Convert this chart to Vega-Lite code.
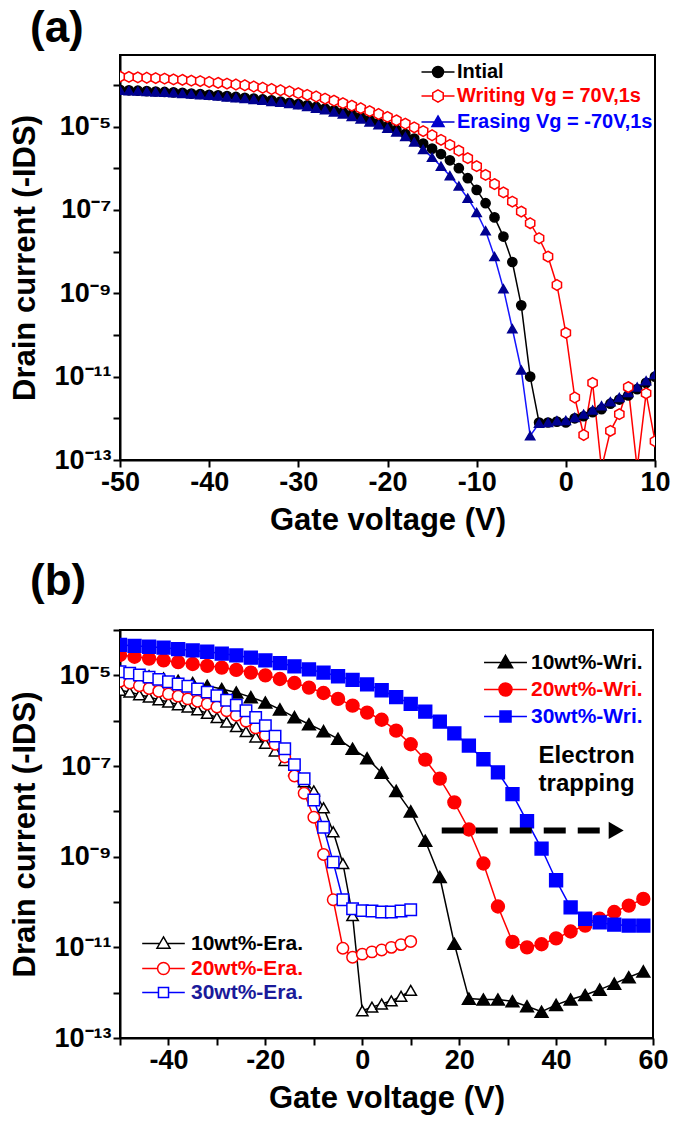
{
"$schema": "https://vega.github.io/schema/vega-lite/v6.json",
"background": "white",
"padding": {"left": 8, "top": 6, "right": 5, "bottom": 5},
"spacing": 23,
"config": {
  "font": "Liberation Sans",
  "view": {"stroke": "black", "strokeWidth": 2},
  "axis": {"labelFont": "Liberation Sans", "labelFontWeight": "bold", "labelFontSize": 27, "labelColor": "black",
           "titleFont": "Liberation Sans", "titleFontWeight": "bold", "titleFontSize": 31, "titleColor": "black",
           "domainColor": "black", "domainWidth": 2, "tickColor": "black", "tickWidth": 2, "tickSize": 7,
           "labelPadding": 2, "grid": false, "labelFlush": false, "labelOverlap": false},
  "legend": {"labelFont": "Liberation Sans", "labelFontWeight": "bold", "padding": 0, "labelLimit": 400}
},
"resolve": {"scale": {"x": "independent", "y": "independent", "color": "independent", "stroke": "independent", "fill": "independent", "shape": "independent"}},
"vconcat": [
{
  "width": 535, "height": 405,
  "title": {"text": "(a)", "anchor": "start", "fontSize": 44, "fontWeight": "bold", "font": "Liberation Sans", "dx": 20, "offset": 4, "color": "black"},
  "data": {"values": [
{"V":-50,"I":7.59e-5,"s":"Intial"},{"V":-49,"I":7.41e-5,"s":"Intial"},{"V":-48,"I":7.24e-5,"s":"Intial"},{"V":-47,"I":7.08e-5,"s":"Intial"},{"V":-46,"I":6.92e-5,"s":"Intial"},{"V":-45,"I":6.76e-5,"s":"Intial"},{"V":-44,"I":6.61e-5,"s":"Intial"},{"V":-43,"I":6.46e-5,"s":"Intial"},{"V":-42,"I":6.17e-5,"s":"Intial"},{"V":-41,"I":6.03e-5,"s":"Intial"},
{"V":-40,"I":5.75e-5,"s":"Intial"},{"V":-39,"I":5.62e-5,"s":"Intial"},{"V":-38,"I":5.37e-5,"s":"Intial"},{"V":-37,"I":5.13e-5,"s":"Intial"},{"V":-36,"I":4.90e-5,"s":"Intial"},{"V":-35,"I":4.68e-5,"s":"Intial"},{"V":-34,"I":4.47e-5,"s":"Intial"},{"V":-33,"I":4.27e-5,"s":"Intial"},{"V":-32,"I":3.98e-5,"s":"Intial"},{"V":-31,"I":3.72e-5,"s":"Intial"},
{"V":-30,"I":3.47e-5,"s":"Intial"},{"V":-29,"I":3.24e-5,"s":"Intial"},{"V":-28,"I":2.95e-5,"s":"Intial"},{"V":-27,"I":2.69e-5,"s":"Intial"},{"V":-26,"I":2.45e-5,"s":"Intial"},{"V":-25,"I":2.19e-5,"s":"Intial"},{"V":-24,"I":1.95e-5,"s":"Intial"},{"V":-23,"I":1.70e-5,"s":"Intial"},{"V":-22,"I":1.45e-5,"s":"Intial"},{"V":-21,"I":1.23e-5,"s":"Intial"},
{"V":-20,"I":1.02e-5,"s":"Intial"},{"V":-19,"I":8.32e-6,"s":"Intial"},{"V":-18,"I":6.61e-6,"s":"Intial"},{"V":-17,"I":5.13e-6,"s":"Intial"},{"V":-16,"I":3.89e-6,"s":"Intial"},{"V":-15,"I":2.95e-6,"s":"Intial"},{"V":-14,"I":2.19e-6,"s":"Intial"},{"V":-13,"I":1.55e-6,"s":"Intial"},{"V":-12,"I":1.0e-6,"s":"Intial"},{"V":-11,"I":5.75e-7,"s":"Intial"},
{"V":-10,"I":3.02e-7,"s":"Intial"},{"V":-9,"I":1.45e-7,"s":"Intial"},{"V":-8,"I":6.61e-8,"s":"Intial"},{"V":-7,"I":2.29e-8,"s":"Intial"},{"V":-6,"I":5.62e-9,"s":"Intial"},{"V":-5,"I":5.13e-10,"s":"Intial"},{"V":-4,"I":1.0e-11,"s":"Intial"},{"V":-3,"I":7.94e-13,"s":"Intial"},{"V":-2,"I":7.94e-13,"s":"Intial"},{"V":-1,"I":8.32e-13,"s":"Intial"},
{"V":0,"I":7.94e-13,"s":"Intial"},{"V":1,"I":1.0e-12,"s":"Intial"},{"V":2,"I":1.12e-12,"s":"Intial"},{"V":3,"I":1.41e-12,"s":"Intial"},{"V":4,"I":1.66e-12,"s":"Intial"},{"V":5,"I":2.24e-12,"s":"Intial"},{"V":6,"I":2.82e-12,"s":"Intial"},{"V":7,"I":3.55e-12,"s":"Intial"},{"V":8,"I":5.01e-12,"s":"Intial"},{"V":9,"I":7.08e-12,"s":"Intial"},{"V":10,"I":1.0e-11,"s":"Intial"},

{"V":-50,"I":1.58e-4,"s":"Writing Vg = 70V,1s"},{"V":-49,"I":1.55e-4,"s":"Writing Vg = 70V,1s"},{"V":-48,"I":1.51e-4,"s":"Writing Vg = 70V,1s"},{"V":-47,"I":1.48e-4,"s":"Writing Vg = 70V,1s"},{"V":-46,"I":1.45e-4,"s":"Writing Vg = 70V,1s"},{"V":-45,"I":1.41e-4,"s":"Writing Vg = 70V,1s"},{"V":-44,"I":1.35e-4,"s":"Writing Vg = 70V,1s"},{"V":-43,"I":1.32e-4,"s":"Writing Vg = 70V,1s"},{"V":-42,"I":1.26e-4,"s":"Writing Vg = 70V,1s"},{"V":-41,"I":1.23e-4,"s":"Writing Vg = 70V,1s"},
{"V":-40,"I":1.17e-4,"s":"Writing Vg = 70V,1s"},{"V":-39,"I":1.12e-4,"s":"Writing Vg = 70V,1s"},{"V":-38,"I":1.07e-4,"s":"Writing Vg = 70V,1s"},{"V":-37,"I":1.02e-4,"s":"Writing Vg = 70V,1s"},{"V":-36,"I":9.77e-5,"s":"Writing Vg = 70V,1s"},{"V":-35,"I":9.12e-5,"s":"Writing Vg = 70V,1s"},{"V":-34,"I":8.51e-5,"s":"Writing Vg = 70V,1s"},{"V":-33,"I":7.94e-5,"s":"Writing Vg = 70V,1s"},{"V":-32,"I":7.41e-5,"s":"Writing Vg = 70V,1s"},{"V":-31,"I":6.92e-5,"s":"Writing Vg = 70V,1s"},
{"V":-30,"I":6.31e-5,"s":"Writing Vg = 70V,1s"},{"V":-29,"I":5.75e-5,"s":"Writing Vg = 70V,1s"},{"V":-28,"I":5.25e-5,"s":"Writing Vg = 70V,1s"},{"V":-27,"I":4.68e-5,"s":"Writing Vg = 70V,1s"},{"V":-26,"I":4.17e-5,"s":"Writing Vg = 70V,1s"},{"V":-25,"I":3.63e-5,"s":"Writing Vg = 70V,1s"},{"V":-24,"I":3.16e-5,"s":"Writing Vg = 70V,1s"},{"V":-23,"I":2.75e-5,"s":"Writing Vg = 70V,1s"},{"V":-22,"I":2.34e-5,"s":"Writing Vg = 70V,1s"},{"V":-21,"I":2.0e-5,"s":"Writing Vg = 70V,1s"},
{"V":-20,"I":1.70e-5,"s":"Writing Vg = 70V,1s"},{"V":-19,"I":1.41e-5,"s":"Writing Vg = 70V,1s"},{"V":-18,"I":1.17e-5,"s":"Writing Vg = 70V,1s"},{"V":-17,"I":9.55e-6,"s":"Writing Vg = 70V,1s"},{"V":-16,"I":7.76e-6,"s":"Writing Vg = 70V,1s"},{"V":-15,"I":6.17e-6,"s":"Writing Vg = 70V,1s"},{"V":-14,"I":4.79e-6,"s":"Writing Vg = 70V,1s"},{"V":-13,"I":3.63e-6,"s":"Writing Vg = 70V,1s"},{"V":-12,"I":2.63e-6,"s":"Writing Vg = 70V,1s"},{"V":-11,"I":1.74e-6,"s":"Writing Vg = 70V,1s"},
{"V":-10,"I":1.12e-6,"s":"Writing Vg = 70V,1s"},{"V":-9,"I":6.92e-7,"s":"Writing Vg = 70V,1s"},{"V":-8,"I":4.17e-7,"s":"Writing Vg = 70V,1s"},{"V":-7,"I":2.63e-7,"s":"Writing Vg = 70V,1s"},{"V":-6,"I":1.58e-7,"s":"Writing Vg = 70V,1s"},{"V":-5,"I":9.12e-8,"s":"Writing Vg = 70V,1s"},{"V":-4,"I":4.79e-8,"s":"Writing Vg = 70V,1s"},{"V":-3,"I":2.09e-8,"s":"Writing Vg = 70V,1s"},{"V":-2,"I":7.59e-9,"s":"Writing Vg = 70V,1s"},{"V":-1,"I":1.58e-9,"s":"Writing Vg = 70V,1s"},
{"V":0,"I":1.12e-10,"s":"Writing Vg = 70V,1s"},{"V":1,"I":3.16e-12,"s":"Writing Vg = 70V,1s"},{"V":2,"I":3.98e-13,"s":"Writing Vg = 70V,1s"},{"V":3,"I":7.08e-12,"s":"Writing Vg = 70V,1s"},{"V":4,"I":6.31e-14,"s":"Writing Vg = 70V,1s"},{"V":5,"I":5.01e-13,"s":"Writing Vg = 70V,1s"},{"V":6,"I":1.26e-12,"s":"Writing Vg = 70V,1s"},{"V":7,"I":5.62e-12,"s":"Writing Vg = 70V,1s"},{"V":8,"I":6.31e-14,"s":"Writing Vg = 70V,1s"},{"V":9,"I":3.98e-12,"s":"Writing Vg = 70V,1s"},{"V":10,"I":2.82e-13,"s":"Writing Vg = 70V,1s"},

{"V":-50,"I":7.41e-5,"s":"Erasing Vg = -70V,1s"},{"V":-49,"I":7.24e-5,"s":"Erasing Vg = -70V,1s"},{"V":-48,"I":7.08e-5,"s":"Erasing Vg = -70V,1s"},{"V":-47,"I":6.92e-5,"s":"Erasing Vg = -70V,1s"},{"V":-46,"I":6.76e-5,"s":"Erasing Vg = -70V,1s"},{"V":-45,"I":6.61e-5,"s":"Erasing Vg = -70V,1s"},{"V":-44,"I":6.46e-5,"s":"Erasing Vg = -70V,1s"},{"V":-43,"I":6.17e-5,"s":"Erasing Vg = -70V,1s"},{"V":-42,"I":6.03e-5,"s":"Erasing Vg = -70V,1s"},{"V":-41,"I":5.75e-5,"s":"Erasing Vg = -70V,1s"},
{"V":-40,"I":5.62e-5,"s":"Erasing Vg = -70V,1s"},{"V":-39,"I":5.37e-5,"s":"Erasing Vg = -70V,1s"},{"V":-38,"I":5.13e-5,"s":"Erasing Vg = -70V,1s"},{"V":-37,"I":4.90e-5,"s":"Erasing Vg = -70V,1s"},{"V":-36,"I":4.68e-5,"s":"Erasing Vg = -70V,1s"},{"V":-35,"I":4.47e-5,"s":"Erasing Vg = -70V,1s"},{"V":-34,"I":4.27e-5,"s":"Erasing Vg = -70V,1s"},{"V":-33,"I":3.98e-5,"s":"Erasing Vg = -70V,1s"},{"V":-32,"I":3.80e-5,"s":"Erasing Vg = -70V,1s"},{"V":-31,"I":3.55e-5,"s":"Erasing Vg = -70V,1s"},
{"V":-30,"I":3.31e-5,"s":"Erasing Vg = -70V,1s"},{"V":-29,"I":3.02e-5,"s":"Erasing Vg = -70V,1s"},{"V":-28,"I":2.75e-5,"s":"Erasing Vg = -70V,1s"},{"V":-27,"I":2.51e-5,"s":"Erasing Vg = -70V,1s"},{"V":-26,"I":2.24e-5,"s":"Erasing Vg = -70V,1s"},{"V":-25,"I":2.0e-5,"s":"Erasing Vg = -70V,1s"},{"V":-24,"I":1.74e-5,"s":"Erasing Vg = -70V,1s"},{"V":-23,"I":1.51e-5,"s":"Erasing Vg = -70V,1s"},{"V":-22,"I":1.29e-5,"s":"Erasing Vg = -70V,1s"},{"V":-21,"I":1.10e-5,"s":"Erasing Vg = -70V,1s"},
{"V":-20,"I":9.12e-6,"s":"Erasing Vg = -70V,1s"},{"V":-19,"I":7.41e-6,"s":"Erasing Vg = -70V,1s"},{"V":-18,"I":5.75e-6,"s":"Erasing Vg = -70V,1s"},{"V":-17,"I":4.27e-6,"s":"Erasing Vg = -70V,1s"},{"V":-16,"I":2.82e-6,"s":"Erasing Vg = -70V,1s"},{"V":-15,"I":1.82e-6,"s":"Erasing Vg = -70V,1s"},{"V":-14,"I":1.12e-6,"s":"Erasing Vg = -70V,1s"},{"V":-13,"I":6.61e-7,"s":"Erasing Vg = -70V,1s"},{"V":-12,"I":3.72e-7,"s":"Erasing Vg = -70V,1s"},{"V":-11,"I":1.91e-7,"s":"Erasing Vg = -70V,1s"},
{"V":-10,"I":8.71e-8,"s":"Erasing Vg = -70V,1s"},{"V":-9,"I":3.16e-8,"s":"Erasing Vg = -70V,1s"},{"V":-8,"I":7.59e-9,"s":"Erasing Vg = -70V,1s"},{"V":-7,"I":1.29e-9,"s":"Erasing Vg = -70V,1s"},{"V":-6,"I":1.41e-10,"s":"Erasing Vg = -70V,1s"},{"V":-5,"I":1.45e-11,"s":"Erasing Vg = -70V,1s"},{"V":-4,"I":3.80e-13,"s":"Erasing Vg = -70V,1s"},{"V":-3,"I":7.59e-13,"s":"Erasing Vg = -70V,1s"},{"V":-2,"I":7.94e-13,"s":"Erasing Vg = -70V,1s"},{"V":-1,"I":8.71e-13,"s":"Erasing Vg = -70V,1s"},
{"V":0,"I":8.91e-13,"s":"Erasing Vg = -70V,1s"},{"V":1,"I":1.05e-12,"s":"Erasing Vg = -70V,1s"},{"V":2,"I":1.26e-12,"s":"Erasing Vg = -70V,1s"},{"V":3,"I":1.58e-12,"s":"Erasing Vg = -70V,1s"},{"V":4,"I":2.0e-12,"s":"Erasing Vg = -70V,1s"},{"V":5,"I":2.51e-12,"s":"Erasing Vg = -70V,1s"},{"V":6,"I":3.16e-12,"s":"Erasing Vg = -70V,1s"},{"V":7,"I":4.17e-12,"s":"Erasing Vg = -70V,1s"},{"V":8,"I":5.62e-12,"s":"Erasing Vg = -70V,1s"},{"V":9,"I":7.94e-12,"s":"Erasing Vg = -70V,1s"},{"V":10,"I":1.12e-11,"s":"Erasing Vg = -70V,1s"}
  ]},
  "layer": [
    {"mark": {"type": "line", "strokeWidth": 1.5, "clip": true},
     "encoding": {
       "x": {"field": "V", "type": "quantitative", "scale": {"domain": [-50, 10], "nice": false, "zero": false}},
       "y": {"field": "I", "type": "quantitative", "scale": {"type": "log", "domain": [1e-13, 5.2e-4], "nice": false}},
       "color": {"field": "s", "type": "nominal", "scale": {"domain": ["Intial", "Writing Vg = 70V,1s", "Erasing Vg = -70V,1s"], "range": ["black", "#ff0000", "#1515ff"]}, "legend": null},
       "order": {"field": "V", "type": "quantitative"}
     }},
    {"transform": [{"filter": "datum.s == 'Intial'"}],
     "mark": {"type": "point", "size": 85, "strokeWidth": 1.5, "opacity": 1, "fillOpacity": 1, "clip": true},
     "encoding": {
       "x": {"field": "V", "type": "quantitative", "scale": {"domain": [-50, 10], "nice": false, "zero": false},
             "axis": {"orient": "bottom", "values": [-50, -40, -30, -20, -10, 0, 10], "labelExpr": "'' + datum.value",
                      "title": "Gate voltage (V)", "titlePadding": 10}},
       "y": {"field": "I", "type": "quantitative", "scale": {"type": "log", "domain": [1e-13, 5.2e-4], "nice": false},
             "axis": {"orient": "left", "values": [1e-13, 1e-12, 1e-11, 1e-10, 1e-9, 1e-8, 1e-7, 1e-6, 1e-5, 1e-4],
                      "labelExpr": "round(log(datum.value)/LN10) == -5 ? '10⁻⁵' : round(log(datum.value)/LN10) == -7 ? '10⁻⁷' : round(log(datum.value)/LN10) == -9 ? '10⁻⁹' : round(log(datum.value)/LN10) == -11 ? '10⁻¹¹' : round(log(datum.value)/LN10) == -13 ? '10⁻¹³' : ''",
                      "title": "Drain current (-IDS)", "titlePadding": 12}},
       "stroke": {"field": "s", "type": "nominal", "scale": {"domain": ["Intial"], "range": ["black"]}, "legend": null},
       "fill": {"field": "s", "type": "nominal", "scale": {"domain": ["Intial"], "range": ["black"]}, "legend": null},
       "shape": {"field": "s", "type": "nominal", "scale": {"domain": ["Intial"], "range": ["circle"]}, "legend": null}
     }},
    {"transform": [{"filter": "datum.s == 'Erasing Vg = -70V,1s'"}],
     "mark": {"type": "point", "size": 85, "strokeWidth": 1.5, "opacity": 1, "fillOpacity": 1, "clip": true},
     "encoding": {
       "x": {"field": "V", "type": "quantitative", "scale": {"domain": [-50, 10], "nice": false, "zero": false}},
       "y": {"field": "I", "type": "quantitative", "scale": {"type": "log", "domain": [1e-13, 5.2e-4], "nice": false}},
       "stroke": {"field": "s", "type": "nominal", "scale": {"domain": ["Erasing Vg = -70V,1s"], "range": ["#000090"]}, "legend": null},
       "fill": {"field": "s", "type": "nominal", "scale": {"domain": ["Erasing Vg = -70V,1s"], "range": ["#000090"]}, "legend": null},
       "shape": {"field": "s", "type": "nominal", "scale": {"domain": ["Erasing Vg = -70V,1s"], "range": ["triangle-up"]}, "legend": null}
     }},
    {"transform": [{"filter": "datum.s == 'Writing Vg = 70V,1s'"}],
     "mark": {"type": "point", "size": 85, "strokeWidth": 1.5, "opacity": 1, "fillOpacity": 1, "clip": true},
     "encoding": {
       "x": {"field": "V", "type": "quantitative", "scale": {"domain": [-50, 10], "nice": false, "zero": false}},
       "y": {"field": "I", "type": "quantitative", "scale": {"type": "log", "domain": [1e-13, 5.2e-4], "nice": false}},
       "stroke": {"field": "s", "type": "nominal", "scale": {"domain": ["Writing Vg = 70V,1s"], "range": ["#ff0000"]}, "legend": null},
       "fill": {"field": "s", "type": "nominal", "scale": {"domain": ["Writing Vg = 70V,1s"], "range": ["white"]}, "legend": null},
       "shape": {"field": "s", "type": "nominal", "scale": {"domain": ["Writing Vg = 70V,1s"], "range": ["M0,-1.15L1,-0.575L1,0.575L0,1.15L-1,0.575L-1,-0.575Z"]}, "legend": null}
     }},
    {"transform": [{"filter": "datum.s == 'Intial'"}],
     "mark": {"type": "point", "opacity": 1, "size": 0},
     "encoding": {
       "x": {"field": "V", "type": "quantitative", "scale": {"domain": [-50, 10], "nice": false, "zero": false}},
       "y": {"field": "I", "type": "quantitative", "scale": {"type": "log", "domain": [1e-13, 5.2e-4], "nice": false}},
       "stroke": {"field": "s", "type": "nominal", "scale": {"domain": ["Intial"], "range": ["black"]}, "legend": null},
       "fill": {"field": "s", "type": "nominal", "scale": {"domain": ["Intial"], "range": ["black"]}, "legend": null},
       "shape": {"field": "s", "type": "nominal", "scale": {"domain": ["Intial"], "range": ["M-3,0L-1,0M1,0L3,0M1,0A1,1,0,1,1,-1,0A1,1,0,1,1,1,0Z"]},
                 "legend": {"orient": "none", "legendX": 308, "legendY": 7, "title": null, "labelFontSize": 20, "labelColor": "black", "labelOffset": 9, "symbolSize": 121, "symbolStrokeWidth": 1.5,
                            "encode": {"symbols": {"fill": {"value": "black"}, "stroke": {"value": "black"}, "opacity": {"value": 1}, "fillOpacity": {"value": 1}}}}}
     }},
    {"transform": [{"filter": "datum.s == 'Writing Vg = 70V,1s'"}],
     "mark": {"type": "point", "opacity": 1, "size": 0},
     "encoding": {
       "x": {"field": "V", "type": "quantitative", "scale": {"domain": [-50, 10], "nice": false, "zero": false}},
       "y": {"field": "I", "type": "quantitative", "scale": {"type": "log", "domain": [1e-13, 5.2e-4], "nice": false}},
       "stroke": {"field": "s", "type": "nominal", "scale": {"domain": ["Writing Vg = 70V,1s"], "range": ["#ff0000"]}, "legend": null},
       "fill": {"field": "s", "type": "nominal", "scale": {"domain": ["Writing Vg = 70V,1s"], "range": ["white"]}, "legend": null},
       "shape": {"field": "s", "type": "nominal", "scale": {"domain": ["Writing Vg = 70V,1s"], "range": ["M-3,0L-0.95,0M0.95,0L3,0M0,-1.1L0.95,-0.55L0.95,0.55L0,1.1L-0.95,0.55L-0.95,-0.55Z"]},
                 "legend": {"orient": "none", "legendX": 308, "legendY": 31, "title": null, "labelFontSize": 20, "labelColor": "#ff0000", "labelOffset": 9, "symbolSize": 121, "symbolStrokeWidth": 1.5,
                            "encode": {"symbols": {"fill": {"value": "white"}, "stroke": {"value": "#ff0000"}, "opacity": {"value": 1}, "fillOpacity": {"value": 1}}}}}
     }},
    {"transform": [{"filter": "datum.s == 'Erasing Vg = -70V,1s'"}],
     "mark": {"type": "point", "opacity": 1, "size": 0},
     "encoding": {
       "x": {"field": "V", "type": "quantitative", "scale": {"domain": [-50, 10], "nice": false, "zero": false}},
       "y": {"field": "I", "type": "quantitative", "scale": {"type": "log", "domain": [1e-13, 5.2e-4], "nice": false}},
       "stroke": {"field": "s", "type": "nominal", "scale": {"domain": ["Erasing Vg = -70V,1s"], "range": ["#0000cc"]}, "legend": null},
       "fill": {"field": "s", "type": "nominal", "scale": {"domain": ["Erasing Vg = -70V,1s"], "range": ["#0000cc"]}, "legend": null},
       "shape": {"field": "s", "type": "nominal", "scale": {"domain": ["Erasing Vg = -70V,1s"], "range": ["M-3,0L-0.6,0M0.6,0L3,0M0,-1.1L1.1,0.8L-1.1,0.8Z"]},
                 "legend": {"orient": "none", "legendX": 308, "legendY": 57, "title": null, "labelFontSize": 20, "labelColor": "#0000ff", "labelOffset": 9, "symbolSize": 121, "symbolStrokeWidth": 1.5,
                            "encode": {"symbols": {"fill": {"value": "#0000cc"}, "stroke": {"value": "#0000cc"}, "opacity": {"value": 1}, "fillOpacity": {"value": 1}}}}}
     }}
  ],
  "resolve": {"scale": {"color": "independent", "stroke": "independent", "fill": "independent", "shape": "independent"}}
},
{
  "width": 533, "height": 408,
  "title": {"text": "(b)", "anchor": "start", "fontSize": 44, "fontWeight": "bold", "font": "Liberation Sans", "dx": 20, "offset": 12, "color": "black"},
  "data": {"values": [
{"V":-50,"I":1.20e-5,"s":"10wt%-Wri."},{"V":-47,"I":1.07e-5,"s":"10wt%-Wri."},{"V":-44,"I":9.55e-6,"s":"10wt%-Wri."},{"V":-41,"I":8.51e-6,"s":"10wt%-Wri."},{"V":-38,"I":7.59e-6,"s":"10wt%-Wri."},{"V":-35,"I":6.76e-6,"s":"10wt%-Wri."},{"V":-32,"I":5.89e-6,"s":"10wt%-Wri."},{"V":-29,"I":5.01e-6,"s":"10wt%-Wri."},{"V":-26,"I":4.17e-6,"s":"10wt%-Wri."},{"V":-23,"I":3.31e-6,"s":"10wt%-Wri."},
{"V":-20,"I":2.51e-6,"s":"10wt%-Wri."},{"V":-17,"I":1.78e-6,"s":"10wt%-Wri."},{"V":-14,"I":1.20e-6,"s":"10wt%-Wri."},{"V":-11,"I":8.32e-7,"s":"10wt%-Wri."},{"V":-8,"I":5.89e-7,"s":"10wt%-Wri."},{"V":-5,"I":3.98e-7,"s":"10wt%-Wri."},{"V":-2,"I":2.40e-7,"s":"10wt%-Wri."},{"V":1,"I":1.48e-7,"s":"10wt%-Wri."},{"V":4,"I":7.08e-8,"s":"10wt%-Wri."},{"V":7,"I":2.82e-8,"s":"10wt%-Wri."},
{"V":10,"I":1.0e-8,"s":"10wt%-Wri."},{"V":13,"I":2.24e-9,"s":"10wt%-Wri."},{"V":16,"I":3.55e-10,"s":"10wt%-Wri."},{"V":19,"I":1.20e-11,"s":"10wt%-Wri."},{"V":22,"I":7.41e-13,"s":"10wt%-Wri."},{"V":25,"I":7.08e-13,"s":"10wt%-Wri."},{"V":28,"I":7.08e-13,"s":"10wt%-Wri."},{"V":31,"I":6.46e-13,"s":"10wt%-Wri."},{"V":34,"I":5.01e-13,"s":"10wt%-Wri."},{"V":37,"I":3.80e-13,"s":"10wt%-Wri."},
{"V":40,"I":5.37e-13,"s":"10wt%-Wri."},{"V":43,"I":7.08e-13,"s":"10wt%-Wri."},{"V":46,"I":8.91e-13,"s":"10wt%-Wri."},{"V":49,"I":1.17e-12,"s":"10wt%-Wri."},{"V":52,"I":1.58e-12,"s":"10wt%-Wri."},{"V":55,"I":2.19e-12,"s":"10wt%-Wri."},{"V":58,"I":2.95e-12,"s":"10wt%-Wri."},

{"V":-50,"I":2.82e-5,"s":"20wt%-Wri."},{"V":-47,"I":2.57e-5,"s":"20wt%-Wri."},{"V":-44,"I":2.34e-5,"s":"20wt%-Wri."},{"V":-41,"I":2.14e-5,"s":"20wt%-Wri."},{"V":-38,"I":1.95e-5,"s":"20wt%-Wri."},{"V":-35,"I":1.78e-5,"s":"20wt%-Wri."},{"V":-32,"I":1.62e-5,"s":"20wt%-Wri."},{"V":-29,"I":1.48e-5,"s":"20wt%-Wri."},{"V":-26,"I":1.32e-5,"s":"20wt%-Wri."},{"V":-23,"I":1.15e-5,"s":"20wt%-Wri."},
{"V":-20,"I":1.0e-5,"s":"20wt%-Wri."},{"V":-17,"I":8.32e-6,"s":"20wt%-Wri."},{"V":-14,"I":6.76e-6,"s":"20wt%-Wri."},{"V":-11,"I":5.37e-6,"s":"20wt%-Wri."},{"V":-8,"I":4.07e-6,"s":"20wt%-Wri."},{"V":-5,"I":3.02e-6,"s":"20wt%-Wri."},{"V":-2,"I":2.14e-6,"s":"20wt%-Wri."},{"V":1,"I":1.51e-6,"s":"20wt%-Wri."},{"V":4,"I":1.05e-6,"s":"20wt%-Wri."},{"V":7,"I":6.03e-7,"s":"20wt%-Wri."},
{"V":10,"I":3.02e-7,"s":"20wt%-Wri."},{"V":13,"I":1.38e-7,"s":"20wt%-Wri."},{"V":16,"I":5.25e-8,"s":"20wt%-Wri."},{"V":19,"I":1.58e-8,"s":"20wt%-Wri."},{"V":22,"I":3.98e-9,"s":"20wt%-Wri."},{"V":25,"I":7.08e-10,"s":"20wt%-Wri."},{"V":28,"I":7.94e-11,"s":"20wt%-Wri."},{"V":31,"I":1.32e-11,"s":"20wt%-Wri."},{"V":34,"I":1.0e-11,"s":"20wt%-Wri."},{"V":37,"I":1.17e-11,"s":"20wt%-Wri."},
{"V":40,"I":1.58e-11,"s":"20wt%-Wri."},{"V":43,"I":2.24e-11,"s":"20wt%-Wri."},{"V":46,"I":3.02e-11,"s":"20wt%-Wri."},{"V":49,"I":4.27e-11,"s":"20wt%-Wri."},{"V":52,"I":6.03e-11,"s":"20wt%-Wri."},{"V":55,"I":8.32e-11,"s":"20wt%-Wri."},{"V":58,"I":1.17e-10,"s":"20wt%-Wri."},

{"V":-50,"I":4.68e-5,"s":"30wt%-Wri."},{"V":-47,"I":4.47e-5,"s":"30wt%-Wri."},{"V":-44,"I":4.27e-5,"s":"30wt%-Wri."},{"V":-41,"I":4.07e-5,"s":"30wt%-Wri."},{"V":-38,"I":3.80e-5,"s":"30wt%-Wri."},{"V":-35,"I":3.55e-5,"s":"30wt%-Wri."},{"V":-32,"I":3.31e-5,"s":"30wt%-Wri."},{"V":-29,"I":3.02e-5,"s":"30wt%-Wri."},{"V":-26,"I":2.75e-5,"s":"30wt%-Wri."},{"V":-23,"I":2.45e-5,"s":"30wt%-Wri."},
{"V":-20,"I":2.14e-5,"s":"30wt%-Wri."},{"V":-17,"I":1.86e-5,"s":"30wt%-Wri."},{"V":-14,"I":1.58e-5,"s":"30wt%-Wri."},{"V":-11,"I":1.35e-5,"s":"30wt%-Wri."},{"V":-8,"I":1.15e-5,"s":"30wt%-Wri."},{"V":-5,"I":9.55e-6,"s":"30wt%-Wri."},{"V":-2,"I":7.94e-6,"s":"30wt%-Wri."},{"V":1,"I":6.31e-6,"s":"30wt%-Wri."},{"V":4,"I":4.68e-6,"s":"30wt%-Wri."},{"V":7,"I":3.31e-6,"s":"30wt%-Wri."},
{"V":10,"I":2.34e-6,"s":"30wt%-Wri."},{"V":13,"I":1.58e-6,"s":"30wt%-Wri."},{"V":16,"I":9.55e-7,"s":"30wt%-Wri."},{"V":19,"I":5.25e-7,"s":"30wt%-Wri."},{"V":22,"I":2.82e-7,"s":"30wt%-Wri."},{"V":25,"I":1.41e-7,"s":"30wt%-Wri."},{"V":28,"I":7.24e-8,"s":"30wt%-Wri."},{"V":31,"I":2.40e-8,"s":"30wt%-Wri."},{"V":34,"I":6.03e-9,"s":"30wt%-Wri."},{"V":37,"I":1.51e-9,"s":"30wt%-Wri."},
{"V":40,"I":3.02e-10,"s":"30wt%-Wri."},{"V":43,"I":7.59e-11,"s":"30wt%-Wri."},{"V":46,"I":4.27e-11,"s":"30wt%-Wri."},{"V":49,"I":3.55e-11,"s":"30wt%-Wri."},{"V":52,"I":3.16e-11,"s":"30wt%-Wri."},{"V":55,"I":3.02e-11,"s":"30wt%-Wri."},{"V":58,"I":3.02e-11,"s":"30wt%-Wri."},

{"V":-50,"I":4.68e-6,"s":"10wt%-Era."},{"V":-48,"I":4.27e-6,"s":"10wt%-Era."},{"V":-46,"I":3.72e-6,"s":"10wt%-Era."},{"V":-44,"I":3.31e-6,"s":"10wt%-Era."},{"V":-42,"I":2.88e-6,"s":"10wt%-Era."},{"V":-40,"I":2.57e-6,"s":"10wt%-Era."},{"V":-38,"I":2.24e-6,"s":"10wt%-Era."},{"V":-36,"I":2.0e-6,"s":"10wt%-Era."},{"V":-34,"I":1.74e-6,"s":"10wt%-Era."},{"V":-32,"I":1.45e-6,"s":"10wt%-Era."},
{"V":-30,"I":1.17e-6,"s":"10wt%-Era."},{"V":-28,"I":9.33e-7,"s":"10wt%-Era."},{"V":-26,"I":7.41e-7,"s":"10wt%-Era."},{"V":-24,"I":5.75e-7,"s":"10wt%-Era."},{"V":-22,"I":4.37e-7,"s":"10wt%-Era."},{"V":-20,"I":3.16e-7,"s":"10wt%-Era."},{"V":-18,"I":2.14e-7,"s":"10wt%-Era."},{"V":-16,"I":1.32e-7,"s":"10wt%-Era."},{"V":-14,"I":7.94e-8,"s":"10wt%-Era."},{"V":-12,"I":4.47e-8,"s":"10wt%-Era."},
{"V":-10,"I":2.82e-8,"s":"10wt%-Era."},{"V":-8,"I":1.20e-8,"s":"10wt%-Era."},{"V":-6,"I":3.55e-9,"s":"10wt%-Era."},{"V":-4,"I":7.08e-10,"s":"10wt%-Era."},{"V":-2,"I":5.01e-11,"s":"10wt%-Era."},{"V":0,"I":3.98e-13,"s":"10wt%-Era."},{"V":2,"I":4.79e-13,"s":"10wt%-Era."},{"V":4,"I":5.62e-13,"s":"10wt%-Era."},{"V":6,"I":6.61e-13,"s":"10wt%-Era."},{"V":8,"I":8.32e-13,"s":"10wt%-Era."},{"V":10,"I":1.12e-12,"s":"10wt%-Era."},

{"V":-50,"I":7.41e-6,"s":"20wt%-Era."},{"V":-48,"I":6.76e-6,"s":"20wt%-Era."},{"V":-46,"I":5.89e-6,"s":"20wt%-Era."},{"V":-44,"I":5.13e-6,"s":"20wt%-Era."},{"V":-42,"I":4.47e-6,"s":"20wt%-Era."},{"V":-40,"I":3.89e-6,"s":"20wt%-Era."},{"V":-38,"I":3.47e-6,"s":"20wt%-Era."},{"V":-36,"I":3.02e-6,"s":"20wt%-Era."},{"V":-34,"I":2.69e-6,"s":"20wt%-Era."},{"V":-32,"I":2.34e-6,"s":"20wt%-Era."},
{"V":-30,"I":2.0e-6,"s":"20wt%-Era."},{"V":-28,"I":1.66e-6,"s":"20wt%-Era."},{"V":-26,"I":1.32e-6,"s":"20wt%-Era."},{"V":-24,"I":9.77e-7,"s":"20wt%-Era."},{"V":-22,"I":6.92e-7,"s":"20wt%-Era."},{"V":-20,"I":4.79e-7,"s":"20wt%-Era."},{"V":-18,"I":3.02e-7,"s":"20wt%-Era."},{"V":-16,"I":1.58e-7,"s":"20wt%-Era."},{"V":-14,"I":6.03e-8,"s":"20wt%-Era."},{"V":-12,"I":2.51e-8,"s":"20wt%-Era."},
{"V":-10,"I":7.41e-9,"s":"20wt%-Era."},{"V":-8,"I":1.12e-9,"s":"20wt%-Era."},{"V":-6,"I":1.12e-10,"s":"20wt%-Era."},{"V":-4,"I":9.55e-12,"s":"20wt%-Era."},{"V":-2,"I":6.03e-12,"s":"20wt%-Era."},{"V":0,"I":7.08e-12,"s":"20wt%-Era."},{"V":2,"I":7.94e-12,"s":"20wt%-Era."},{"V":4,"I":8.71e-12,"s":"20wt%-Era."},{"V":6,"I":1.0e-11,"s":"20wt%-Era."},{"V":8,"I":1.15e-11,"s":"20wt%-Era."},{"V":10,"I":1.35e-11,"s":"20wt%-Era."},

{"V":-50,"I":1.20e-5,"s":"30wt%-Era."},{"V":-48,"I":1.12e-5,"s":"30wt%-Era."},{"V":-46,"I":1.02e-5,"s":"30wt%-Era."},{"V":-44,"I":9.12e-6,"s":"30wt%-Era."},{"V":-42,"I":8.13e-6,"s":"30wt%-Era."},{"V":-40,"I":7.24e-6,"s":"30wt%-Era."},{"V":-38,"I":6.46e-6,"s":"30wt%-Era."},{"V":-36,"I":5.75e-6,"s":"30wt%-Era."},{"V":-34,"I":5.01e-6,"s":"30wt%-Era."},{"V":-32,"I":4.27e-6,"s":"30wt%-Era."},
{"V":-30,"I":3.55e-6,"s":"30wt%-Era."},{"V":-28,"I":2.82e-6,"s":"30wt%-Era."},{"V":-26,"I":2.19e-6,"s":"30wt%-Era."},{"V":-24,"I":1.66e-6,"s":"30wt%-Era."},{"V":-22,"I":1.17e-6,"s":"30wt%-Era."},{"V":-20,"I":7.76e-7,"s":"30wt%-Era."},{"V":-18,"I":4.57e-7,"s":"30wt%-Era."},{"V":-16,"I":2.40e-7,"s":"30wt%-Era."},{"V":-14,"I":1.07e-7,"s":"30wt%-Era."},{"V":-12,"I":5.25e-8,"s":"30wt%-Era."},
{"V":-10,"I":1.78e-8,"s":"30wt%-Era."},{"V":-8,"I":4.47e-9,"s":"30wt%-Era."},{"V":-6,"I":7.59e-10,"s":"30wt%-Era."},{"V":-4,"I":1.12e-10,"s":"30wt%-Era."},{"V":-2,"I":7.08e-11,"s":"30wt%-Era."},{"V":0,"I":6.46e-11,"s":"30wt%-Era."},{"V":2,"I":6.31e-11,"s":"30wt%-Era."},{"V":4,"I":6.03e-11,"s":"30wt%-Era."},{"V":6,"I":6.03e-11,"s":"30wt%-Era."},{"V":8,"I":6.31e-11,"s":"30wt%-Era."},{"V":10,"I":6.76e-11,"s":"30wt%-Era."}
  ]},
  "layer": [
    {"transform": [{"filter": "indexof(datum.s, 'Wri') >= 0"}],
     "mark": {"type": "line", "strokeWidth": 1.5, "clip": true},
     "encoding": {
       "x": {"field": "V", "type": "quantitative", "scale": {"domain": [-50, 60], "nice": false, "zero": false}},
       "y": {"field": "I", "type": "quantitative", "scale": {"type": "log", "domain": [1e-13, 1e-4], "nice": false}},
       "color": {"field": "s", "type": "nominal", "scale": {"domain": ["10wt%-Wri.", "20wt%-Wri.", "30wt%-Wri."], "range": ["black", "#ff0000", "#0000ff"]}, "legend": null},
       "order": {"field": "V", "type": "quantitative"}
     }},
    {"transform": [{"filter": "indexof(datum.s, 'Era') >= 0"}],
     "mark": {"type": "line", "strokeWidth": 1.5, "clip": true},
     "encoding": {
       "x": {"field": "V", "type": "quantitative", "scale": {"domain": [-50, 60], "nice": false, "zero": false}},
       "y": {"field": "I", "type": "quantitative", "scale": {"type": "log", "domain": [1e-13, 1e-4], "nice": false}},
       "color": {"field": "s", "type": "nominal", "scale": {"domain": ["10wt%-Era.", "20wt%-Era.", "30wt%-Era."], "range": ["black", "#ff0000", "#0000ff"]}, "legend": null},
       "order": {"field": "V", "type": "quantitative"}
     }},
    {"transform": [{"filter": "indexof(datum.s, 'Wri') >= 0"}],
     "mark": {"type": "point", "size": 165, "strokeWidth": 1.5, "opacity": 1, "fillOpacity": 1, "clip": true},
     "encoding": {
       "x": {"field": "V", "type": "quantitative", "scale": {"domain": [-50, 60], "nice": false, "zero": false},
             "axis": {"orient": "bottom", "values": [-50, -40, -30, -20, -10, 0, 10, 20, 30, 40, 50, 60],
                      "labelExpr": "datum.value % 20 == 0 ? '' + datum.value : ''", "title": "Gate voltage (V)", "titlePadding": 10}},
       "y": {"field": "I", "type": "quantitative", "scale": {"type": "log", "domain": [1e-13, 1e-4], "nice": false},
             "axis": {"orient": "left", "values": [1e-13, 1e-12, 1e-11, 1e-10, 1e-9, 1e-8, 1e-7, 1e-6, 1e-5, 1e-4],
                      "labelExpr": "round(log(datum.value)/LN10) == -5 ? '10⁻⁵' : round(log(datum.value)/LN10) == -7 ? '10⁻⁷' : round(log(datum.value)/LN10) == -9 ? '10⁻⁹' : round(log(datum.value)/LN10) == -11 ? '10⁻¹¹' : round(log(datum.value)/LN10) == -13 ? '10⁻¹³' : ''",
                      "title": "Drain current (-IDS)", "titlePadding": 12}},
       "stroke": {"field": "s", "type": "nominal", "scale": {"domain": ["10wt%-Wri.", "20wt%-Wri.", "30wt%-Wri."], "range": ["black", "#ff0000", "#0000ff"]}, "legend": null},
       "fill": {"field": "s", "type": "nominal", "scale": {"domain": ["10wt%-Wri.", "20wt%-Wri.", "30wt%-Wri."], "range": ["black", "#ff0000", "#0000ff"]}, "legend": null},
       "shape": {"field": "s", "type": "nominal", "scale": {"domain": ["10wt%-Wri.", "20wt%-Wri.", "30wt%-Wri."], "range": ["triangle-up", "circle", "square"]}, "legend": null}
     }},
    {"transform": [{"filter": "indexof(datum.s, 'Era') >= 0"}],
     "mark": {"type": "point", "size": 130, "strokeWidth": 1.5, "opacity": 1, "fillOpacity": 1, "clip": true},
     "encoding": {
       "x": {"field": "V", "type": "quantitative", "scale": {"domain": [-50, 60], "nice": false, "zero": false}},
       "y": {"field": "I", "type": "quantitative", "scale": {"type": "log", "domain": [1e-13, 1e-4], "nice": false}},
       "stroke": {"field": "s", "type": "nominal", "scale": {"domain": ["10wt%-Era.", "20wt%-Era.", "30wt%-Era."], "range": ["black", "#ff0000", "#0000ff"]}, "legend": null},
       "fill": {"field": "s", "type": "nominal", "scale": {"domain": ["10wt%-Era.", "20wt%-Era.", "30wt%-Era."], "range": ["white", "white", "white"]}, "legend": null},
       "shape": {"field": "s", "type": "nominal", "scale": {"domain": ["10wt%-Era.", "20wt%-Era.", "30wt%-Era."], "range": ["triangle-up", "circle", "square"]}, "legend": null}
     }},
    {"transform": [{"filter": "datum.s == '10wt%-Wri.'"}],
     "mark": {"type": "point", "opacity": 1, "size": 0},
     "encoding": {
       "x": {"field": "V", "type": "quantitative", "scale": {"domain": [-50, 60], "nice": false, "zero": false}},
       "y": {"field": "I", "type": "quantitative", "scale": {"type": "log", "domain": [1e-13, 1e-4], "nice": false}},
       "stroke": {"field": "s", "type": "nominal", "scale": {"domain": ["10wt%-Wri."], "range": ["black"]}, "legend": null},
       "fill": {"field": "s", "type": "nominal", "scale": {"domain": ["10wt%-Wri."], "range": ["black"]}, "legend": null},
       "shape": {"field": "s", "type": "nominal", "scale": {"domain": ["10wt%-Wri."], "range": ["M-3.3,0L-0.6,0M0.6,0L3.3,0M0,-1.1L1.1,0.8L-1.1,0.8Z"]},
                 "legend": {"orient": "none", "legendX": 375, "legendY": 22, "title": null, "labelFontSize": 21, "labelColor": "black", "labelOffset": 15, "symbolSize": 169, "symbolStrokeWidth": 1.5,
                            "encode": {"symbols": {"fill": {"value": "black"}, "stroke": {"value": "black"}, "opacity": {"value": 1}, "fillOpacity": {"value": 1}}}}}
     }},
    {"transform": [{"filter": "datum.s == '20wt%-Wri.'"}],
     "mark": {"type": "point", "opacity": 1, "size": 0},
     "encoding": {
       "x": {"field": "V", "type": "quantitative", "scale": {"domain": [-50, 60], "nice": false, "zero": false}},
       "y": {"field": "I", "type": "quantitative", "scale": {"type": "log", "domain": [1e-13, 1e-4], "nice": false}},
       "stroke": {"field": "s", "type": "nominal", "scale": {"domain": ["20wt%-Wri."], "range": ["#ff0000"]}, "legend": null},
       "fill": {"field": "s", "type": "nominal", "scale": {"domain": ["20wt%-Wri."], "range": ["#ff0000"]}, "legend": null},
       "shape": {"field": "s", "type": "nominal", "scale": {"domain": ["20wt%-Wri."], "range": ["M-3.3,0L-1,0M1,0L3.3,0M1,0A1,1,0,1,1,-1,0A1,1,0,1,1,1,0Z"]},
                 "legend": {"orient": "none", "legendX": 375, "legendY": 49, "title": null, "labelFontSize": 21, "labelColor": "#ff0000", "labelOffset": 15, "symbolSize": 169, "symbolStrokeWidth": 1.5,
                            "encode": {"symbols": {"fill": {"value": "#ff0000"}, "stroke": {"value": "#ff0000"}, "opacity": {"value": 1}, "fillOpacity": {"value": 1}}}}}
     }},
    {"transform": [{"filter": "datum.s == '30wt%-Wri.'"}],
     "mark": {"type": "point", "opacity": 1, "size": 0},
     "encoding": {
       "x": {"field": "V", "type": "quantitative", "scale": {"domain": [-50, 60], "nice": false, "zero": false}},
       "y": {"field": "I", "type": "quantitative", "scale": {"type": "log", "domain": [1e-13, 1e-4], "nice": false}},
       "stroke": {"field": "s", "type": "nominal", "scale": {"domain": ["30wt%-Wri."], "range": ["#0000ff"]}, "legend": null},
       "fill": {"field": "s", "type": "nominal", "scale": {"domain": ["30wt%-Wri."], "range": ["#0000ff"]}, "legend": null},
       "shape": {"field": "s", "type": "nominal", "scale": {"domain": ["30wt%-Wri."], "range": ["M-3.3,0L-0.85,0M0.85,0L3.3,0M-0.85,-0.85L0.85,-0.85L0.85,0.85L-0.85,0.85Z"]},
                 "legend": {"orient": "none", "legendX": 375, "legendY": 76, "title": null, "labelFontSize": 21, "labelColor": "#0000ff", "labelOffset": 15, "symbolSize": 169, "symbolStrokeWidth": 1.5,
                            "encode": {"symbols": {"fill": {"value": "#0000ff"}, "stroke": {"value": "#0000ff"}, "opacity": {"value": 1}, "fillOpacity": {"value": 1}}}}}
     }},
    {"transform": [{"filter": "datum.s == '10wt%-Era.'"}],
     "mark": {"type": "point", "opacity": 1, "size": 0},
     "encoding": {
       "x": {"field": "V", "type": "quantitative", "scale": {"domain": [-50, 60], "nice": false, "zero": false}},
       "y": {"field": "I", "type": "quantitative", "scale": {"type": "log", "domain": [1e-13, 1e-4], "nice": false}},
       "stroke": {"field": "s", "type": "nominal", "scale": {"domain": ["10wt%-Era."], "range": ["black"]}, "legend": null},
       "fill": {"field": "s", "type": "nominal", "scale": {"domain": ["10wt%-Era."], "range": ["white"]}, "legend": null},
       "shape": {"field": "s", "type": "nominal", "scale": {"domain": ["10wt%-Era."], "range": ["M-3.6,0L-0.6,0M0.6,0L3.6,0M0,-1.1L1.1,0.8L-1.1,0.8Z"]},
                 "legend": {"orient": "none", "legendX": 33, "legendY": 303, "title": null, "labelFontSize": 21, "labelColor": "black", "labelOffset": 17, "symbolSize": 140, "symbolStrokeWidth": 1.5,
                            "encode": {"symbols": {"fill": {"value": "white"}, "stroke": {"value": "black"}, "opacity": {"value": 1}, "fillOpacity": {"value": 1}}}}}
     }},
    {"transform": [{"filter": "datum.s == '20wt%-Era.'"}],
     "mark": {"type": "point", "opacity": 1, "size": 0},
     "encoding": {
       "x": {"field": "V", "type": "quantitative", "scale": {"domain": [-50, 60], "nice": false, "zero": false}},
       "y": {"field": "I", "type": "quantitative", "scale": {"type": "log", "domain": [1e-13, 1e-4], "nice": false}},
       "stroke": {"field": "s", "type": "nominal", "scale": {"domain": ["20wt%-Era."], "range": ["#ff0000"]}, "legend": null},
       "fill": {"field": "s", "type": "nominal", "scale": {"domain": ["20wt%-Era."], "range": ["white"]}, "legend": null},
       "shape": {"field": "s", "type": "nominal", "scale": {"domain": ["20wt%-Era."], "range": ["M-3.6,0L-1,0M1,0L3.6,0M1,0A1,1,0,1,1,-1,0A1,1,0,1,1,1,0Z"]},
                 "legend": {"orient": "none", "legendX": 33, "legendY": 328, "title": null, "labelFontSize": 21, "labelColor": "#ff0000", "labelOffset": 17, "symbolSize": 140, "symbolStrokeWidth": 1.5,
                            "encode": {"symbols": {"fill": {"value": "white"}, "stroke": {"value": "#ff0000"}, "opacity": {"value": 1}, "fillOpacity": {"value": 1}}}}}
     }},
    {"transform": [{"filter": "datum.s == '30wt%-Era.'"}],
     "mark": {"type": "point", "opacity": 1, "size": 0},
     "encoding": {
       "x": {"field": "V", "type": "quantitative", "scale": {"domain": [-50, 60], "nice": false, "zero": false}},
       "y": {"field": "I", "type": "quantitative", "scale": {"type": "log", "domain": [1e-13, 1e-4], "nice": false}},
       "stroke": {"field": "s", "type": "nominal", "scale": {"domain": ["30wt%-Era."], "range": ["#0000ff"]}, "legend": null},
       "fill": {"field": "s", "type": "nominal", "scale": {"domain": ["30wt%-Era."], "range": ["white"]}, "legend": null},
       "shape": {"field": "s", "type": "nominal", "scale": {"domain": ["30wt%-Era."], "range": ["M-3.6,0L-0.85,0M0.85,0L3.6,0M-0.85,-0.85L0.85,-0.85L0.85,0.85L-0.85,0.85Z"]},
                 "legend": {"orient": "none", "legendX": 33, "legendY": 352, "title": null, "labelFontSize": 21, "labelColor": "#1a1a9a", "labelOffset": 17, "symbolSize": 140, "symbolStrokeWidth": 1.5,
                            "encode": {"symbols": {"fill": {"value": "white"}, "stroke": {"value": "#0000ff"}, "opacity": {"value": 1}, "fillOpacity": {"value": 1}}}}}
     }},
    {"data": {"values": [{"V": 16.4, "V2": 50.2, "I": 3.8e-9}]},
     "mark": {"type": "rule", "strokeWidth": 6, "strokeDash": [22, 12], "color": "black"},
     "encoding": {
       "x": {"field": "V", "type": "quantitative", "scale": {"domain": [-50, 60], "nice": false, "zero": false}},
       "x2": {"field": "V2"},
       "y": {"field": "I", "type": "quantitative", "scale": {"type": "log", "domain": [1e-13, 1e-4], "nice": false}}
     }},
    {"data": {"values": [{"V": 52.4, "I": 3.8e-9}]},
     "mark": {"type": "point", "shape": "triangle-right", "filled": true, "color": "black", "size": 300, "opacity": 1},
     "encoding": {
       "x": {"field": "V", "type": "quantitative", "scale": {"domain": [-50, 60], "nice": false, "zero": false}},
       "y": {"field": "I", "type": "quantitative", "scale": {"type": "log", "domain": [1e-13, 1e-4], "nice": false}}
     }},
    {"data": {"values": [{"V": 46.3, "I": 1.7e-7, "t": "Electron"}, {"V": 46.3, "I": 4.1e-8, "t": "trapping"}]},
     "mark": {"type": "text", "fontSize": 24, "fontWeight": "bold", "font": "Liberation Sans", "color": "black", "baseline": "middle", "align": "center"},
     "encoding": {
       "x": {"field": "V", "type": "quantitative", "scale": {"domain": [-50, 60], "nice": false, "zero": false}},
       "y": {"field": "I", "type": "quantitative", "scale": {"type": "log", "domain": [1e-13, 1e-4], "nice": false}},
       "text": {"field": "t"}
     }}
  ],
  "resolve": {"scale": {"color": "independent", "stroke": "independent", "fill": "independent", "shape": "independent"}}
}
]
}
